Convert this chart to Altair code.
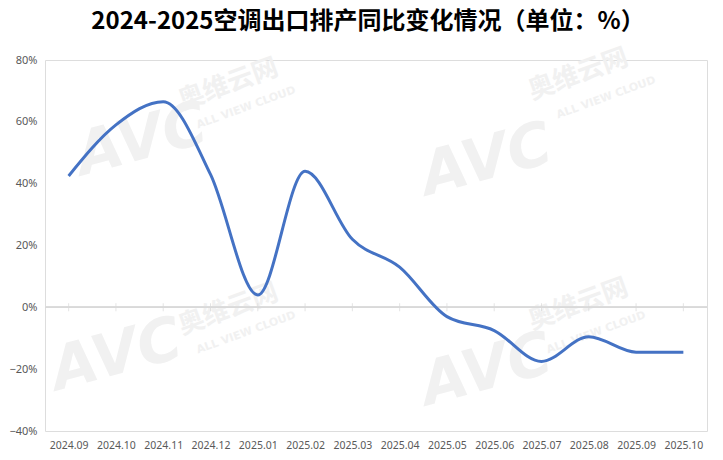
import altair as alt
import pandas as pd

months = ["2024.09", "2024.10", "2024.11", "2024.12", "2025.01", "2025.02", "2025.03",
          "2025.04", "2025.05", "2025.06", "2025.07", "2025.08", "2025.09", "2025.10"]
yoy = [42.5, 59, 66.5, 43, 4, 44, 22, 13, -3, -7.5, -17.5, -9.5, -14.5, -14.5]
title_text = "2024-2025空调出口排产同比变化情况（单位：%）"

df = pd.DataFrame({"month": months, "yoy": [v / 100 for v in yoy]})

# watermark pieces (decoration)
wm_avc_x = [25, 370, 0, 370]
wm_avc_y = [70, 90, 285, 300]
wm_cn_x = [130, 480, 130, 480]
wm_cn_y = [30, 20, 255, 250]
wm_en_x = [150, 510, 150, 500]
wm_en_y = [60, 50, 285, 285]

x_enc = alt.X("month:N", sort=months, title=None,
              scale=alt.Scale(type="point", padding=0.5),
              axis=alt.Axis(labelAngle=0, labelFontSize=10.5, labelColor="#595959",
                            labelFont="Noto Sans", domain=False, ticks=False,
                            labelPadding=9, grid=False, zindex=1))
y_scale = alt.Scale(domain=[-0.4, 0.8], nice=False)

base = alt.Chart(df)

zero = base.mark_rule(color="#d9d9d9", strokeWidth=1).encode(
    x=alt.value(0), x2=alt.value(662), y=alt.datum(0, scale=y_scale))

ticks = base.mark_tick(color="#d9d9d9", thickness=1, size=8, orient="vertical").encode(
    x=x_enc, y=alt.datum(0, scale=y_scale))

line = base.mark_line(color="#4472c4", strokeWidth=3, interpolate="monotone").encode(
    x=x_enc,
    y=alt.Y("yoy:Q", scale=y_scale, title=None,
            axis=alt.Axis(format=".0%", values=[-0.4, -0.2, 0, 0.2, 0.4, 0.6, 0.8],
                          labelFontSize=11, labelColor="#595959", labelFont="Noto Sans",
                          domain=False, ticks=False, grid=False, labelPadding=8, zindex=1)))

title = alt.Chart(pd.DataFrame({"t": [title_text]})).mark_text(
    text=title_text, font="Noto Sans CJK SC", fontSize=24, fontWeight="bold",
    color="#000000", align="center", baseline="middle").encode(
    x=alt.value(323), y=alt.value(-38))

wm_color = "#f1f1f1"
wm_layers = []
for i in range(4):
    wm_layers.append(alt.Chart(pd.DataFrame({"t": ["AVC"]})).mark_text(
        text="AVC", fontSize=60, fontWeight="bold", fontStyle="italic", font="DejaVu Sans",
        color=wm_color, angle=345, align="left", baseline="top").encode(
        x=alt.value(wm_avc_x[i]), y=alt.value(wm_avc_y[i])))
    wm_layers.append(alt.Chart(pd.DataFrame({"t": ["奥维云网"]})).mark_text(
        text="奥维云网", fontSize=26, fontWeight="bold", font="Noto Sans CJK SC",
        color=wm_color, angle=340, align="left", baseline="top").encode(
        x=alt.value(wm_cn_x[i]), y=alt.value(wm_cn_y[i])))
    wm_layers.append(alt.Chart(pd.DataFrame({"t": ["ALL VIEW CLOUD"]})).mark_text(
        text="ALL VIEW CLOUD", fontSize=11, fontWeight="bold", font="DejaVu Sans",
        color=wm_color, angle=340, align="left", baseline="top").encode(
        x=alt.value(wm_en_x[i]), y=alt.value(wm_en_y[i])))

chart = alt.layer(*wm_layers, zero, ticks, line, title).properties(
    width=662, height=371,
    autosize=alt.AutoSizeParams(type="none"),
    padding={"left": 37, "top": 52, "right": 8, "bottom": 30},
).configure_view(stroke=None).configure(background="white")

chart.save("out.html", embed_options={"renderer": "svg", "actions": False})
